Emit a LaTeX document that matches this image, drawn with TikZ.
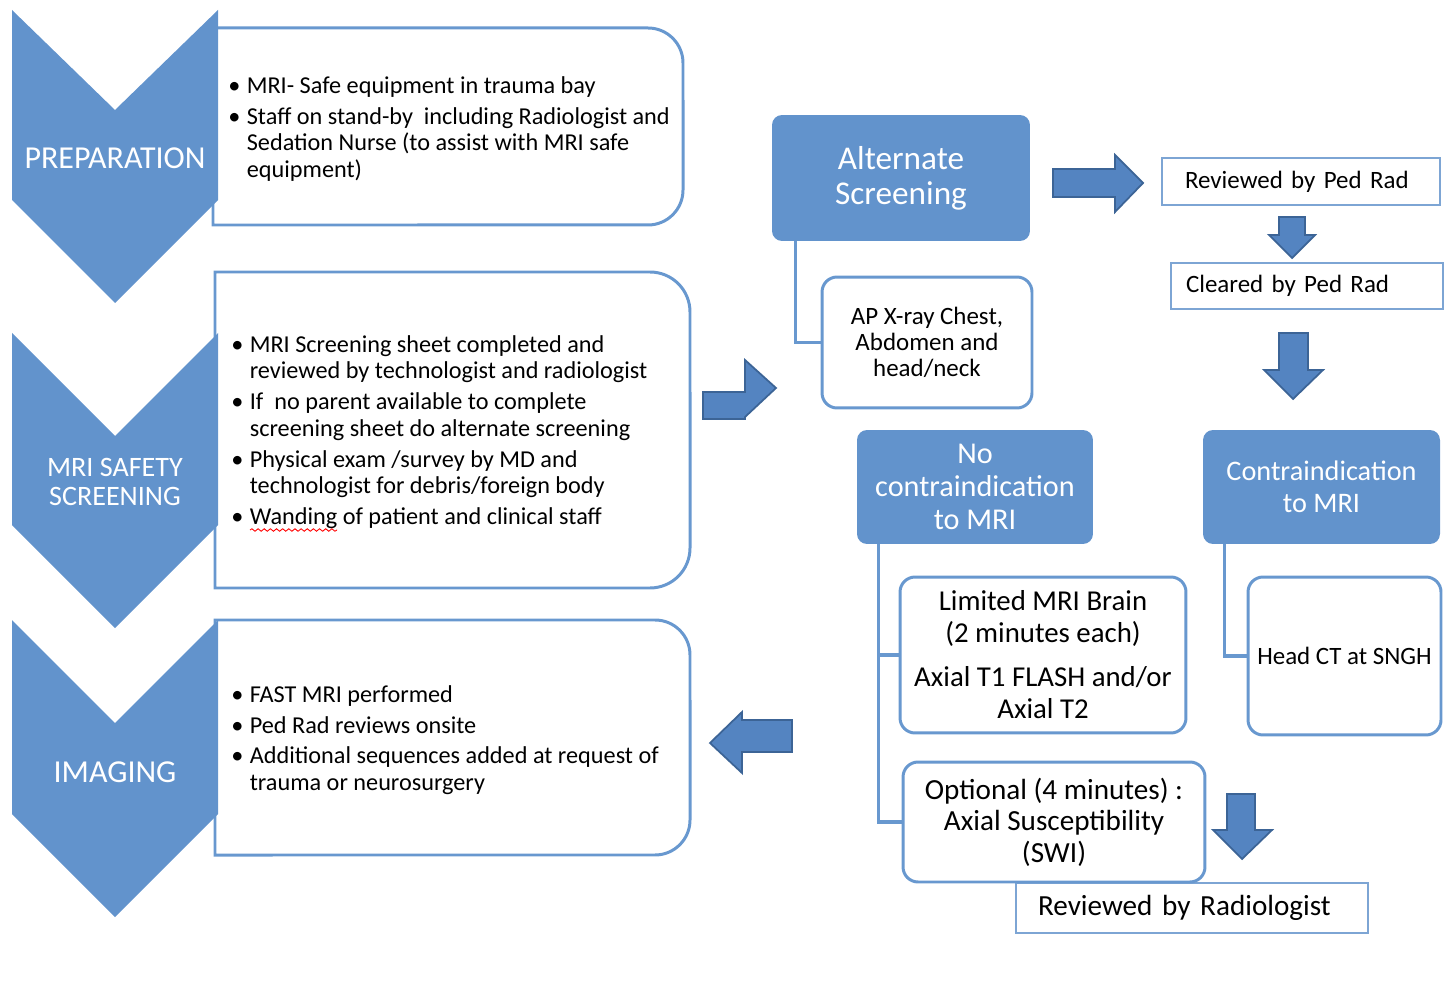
\documentclass[tikz,border=0pt]{standalone}
\usepackage{fontspec}
\setmainfont{Carlito}
\usetikzlibrary{decorations.pathmorphing}

\definecolor{chevblue}{RGB}{98,147,204}
\definecolor{edgeblue}{RGB}{104,152,207}
\definecolor{arrowfill}{RGB}{84,132,193}
\definecolor{arrowedge}{RGB}{60,100,150}
\definecolor{rectline}{RGB}{125,165,212}

\newcommand{\bul}{\makebox[0.37cm][l]{\textbullet}}
\newcommand{\bulpad}{\hspace*{0.37cm}}

\begin{document}
\begin{tikzpicture}[
  x=0.02cm, y=-0.02cm,
  panel/.style={draw=edgeblue, line width=1.7pt, fill=white},
  chev/.style={fill=chevblue},
  chevtext/.style={text=white, align=center, inner sep=0pt},
  bullets/.style={anchor=west, align=left, inner sep=0pt, font=\fontsize{13.8}{15.1}\selectfont},
  headbox/.style={fill=chevblue, rounded corners=0.2cm, text=white, align=center, inner sep=0pt},
  stepbox/.style={draw=edgeblue, line width=1.7pt, fill=white, rounded corners=0.3cm, align=center, inner sep=0pt},
  tagbox/.style={draw=rectline, line width=1.1pt, fill=white, align=left, inner ysep=0pt},
  link/.style={draw=edgeblue, line width=1.8pt},
  blockarrow/.style={fill=arrowfill, draw=arrowedge, line width=1pt, line join=miter}
]
  \useasboundingbox (0,0) rectangle (1449,1006);

  % left column: panels behind the chevrons
  \draw[panel] (213,28) -- (648,28) arc[start angle=90, end angle=0, radius=0.7cm]
    -- (683,190) arc[start angle=0, end angle=-90, radius=0.7cm] -- (213,225) -- cycle;
  \draw[panel] (215,272) -- (650,272) arc[start angle=90, end angle=0, radius=0.8cm]
    -- (690,548) arc[start angle=0, end angle=-90, radius=0.8cm] -- (215,588) -- cycle;
  \draw[panel] (215,620) -- (655,620) arc[start angle=90, end angle=0, radius=0.7cm]
    -- (690,820) arc[start angle=0, end angle=-90, radius=0.7cm] -- (215,855) -- cycle;

  % chevrons
  \fill[chev] (12,10) -- (115,110) -- (218,10) -- (218,200) -- (115,303) -- (12,200) -- cycle;
  \fill[chev] (12,333) -- (115,436) -- (218,333) -- (218,525) -- (115,628) -- (12,525) -- cycle;
  \fill[chev] (12,620) -- (115,723) -- (218,620) -- (218,814) -- (115,917) -- (12,814) -- cycle;

  \node[chevtext, font=\fontsize{18.2}{20}\selectfont] (prep) at (115,158) {PREPARATION};
  \node[chevtext, font=\fontsize{16}{17}\selectfont] (safe) at (115,482) {MRI SAFETY\\SCREENING};
  \node[chevtext, font=\fontsize{18.2}{20}\selectfont] (imag) at (115,772) {IMAGING};

  % bullet texts
  \node[bullets] (prepList) at (228,129) {%
    \bul MRI- Safe equipment in trauma bay\\[2.5pt]
    \bul Staff on stand-by\ \ including Radiologist and\\
    \bulpad Sedation Nurse (to assist with MRI safe\\
    \bulpad equipment)};
  \node[bullets] (safeList) at (231,432) {%
    \bul MRI Screening sheet completed and\\
    \bulpad reviewed by technologist and radiologist\\[2.5pt]
    \bul If\ \ no parent available to complete\\
    \bulpad screening sheet do alternate screening\\[2.5pt]
    \bul Physical exam /survey by MD and\\
    \bulpad technologist for debris/foreign body\\[2.5pt]
    \bul Wanding of patient and clinical staff};
  \node[bullets] (imagList) at (231,740) {%
    \bul FAST MRI performed\\[2.5pt]
    \bul Ped Rad reviews onsite\\[2.5pt]
    \bul Additional sequences added at request of\\
    \bulpad trauma or neurosurgery};
  \draw[red, line width=0.5pt, decorate, decoration={snake, amplitude=0.7pt, segment length=3.5pt}]
    (250,530) -- (337,530);

  % right side
  \node[headbox, minimum width=5.16cm, minimum height=2.52cm,
    font=\fontsize{18.9}{19.9}\selectfont] (alt) at (901,178) {Alternate\\[0pt]Screening};
  \node[stepbox, minimum width=4.2cm, minimum height=2.62cm,
    font=\fontsize{14.2}{14.8}\selectfont] (ap) at (927,342.5) {AP X-ray Chest,\\Abdomen and\\head/neck};
  \node[tagbox, text width=4.64cm, inner xsep=0.46cm, minimum height=0.94cm,
    font=\fontsize{14.2}{15}\selectfont] (revPed) at (1301,181.5) {Reviewed by Ped Rad};
  \node[tagbox, text width=4.84cm, inner xsep=0.3cm, minimum height=0.92cm,
    font=\fontsize{14.2}{15}\selectfont] (clr) at (1307,286) {Cleared by Ped Rad};

  \node[headbox, minimum width=4.72cm, minimum height=2.28cm,
    font=\fontsize{17.2}{18.8}\selectfont] (noc) at (975,487) {No\\contraindication\\to MRI};
  \node[headbox, minimum width=4.74cm, minimum height=2.28cm,
    font=\fontsize{16.1}{18.2}\selectfont] (con) at (1321.5,487) {Contraindication\\to MRI};

  \node[stepbox, minimum width=5.72cm, minimum height=3.12cm,
    font=\fontsize{16.4}{18.2}\selectfont] (lim) at (1043,655)
    {Limited MRI Brain\\(2 minutes each)\\[6.8pt]Axial T1 FLASH and/or\\Axial T2};
  \node[stepbox, minimum width=3.86cm, minimum height=3.16cm,
    font=\fontsize{14.2}{15}\selectfont] (hct) at (1344.5,656) {Head CT at SNGH};
  \node[tagbox, text width=6.16cm, inner xsep=0.44cm, minimum height=1.0cm,
    font=\fontsize{16.6}{17.5}\selectfont] (revRad) at (1192,908) {Reviewed by Radiologist};
  \node[stepbox, minimum width=6.04cm, minimum height=2.4cm,
    font=\fontsize{16.6}{17.9}\selectfont] (opt) at (1054,822)
    {Optional (4 minutes) :\\Axial Susceptibility\\(SWI)};

  % tree lines
  \draw[link] ([xshift=0.48cm]alt.south west) |- (ap.west);
  \draw[link] ([xshift=0.44cm]noc.south west) |- (lim.west);
  \draw[link] ([xshift=0.44cm]noc.south west) |- (opt.west);
  \draw[link] ([xshift=0.44cm]con.south west) |- (hct.west);

  % block arrows
  \filldraw[blockarrow] (703,392) -- (745,392) -- (745,360) -- (776,388) -- (745,417)
    -- (745,419) -- (703,419) -- cycle;
  \filldraw[blockarrow] (792,720) -- (742,720) -- (742,712) -- (710,743) -- (742,773)
    -- (742,752) -- (792,752) -- cycle;
  \filldraw[blockarrow] (1053,169) -- (1115,169) -- (1115,155) -- (1143,183) -- (1115,212)
    -- (1115,197) -- (1053,197) -- cycle;
  \filldraw[blockarrow] (1279,217) -- (1305,217) -- (1305,235) -- (1315,235) -- (1292,258)
    -- (1269,235) -- (1279,235) -- cycle;
  \filldraw[blockarrow] (1279,333) -- (1308,333) -- (1308,370) -- (1323,370) -- (1293,399)
    -- (1264,370) -- (1279,370) -- cycle;
  \filldraw[blockarrow] (1227,794) -- (1255,794) -- (1255,830) -- (1272,830) -- (1242,859)
    -- (1213,830) -- (1227,830) -- cycle;
\end{tikzpicture}
\end{document}
